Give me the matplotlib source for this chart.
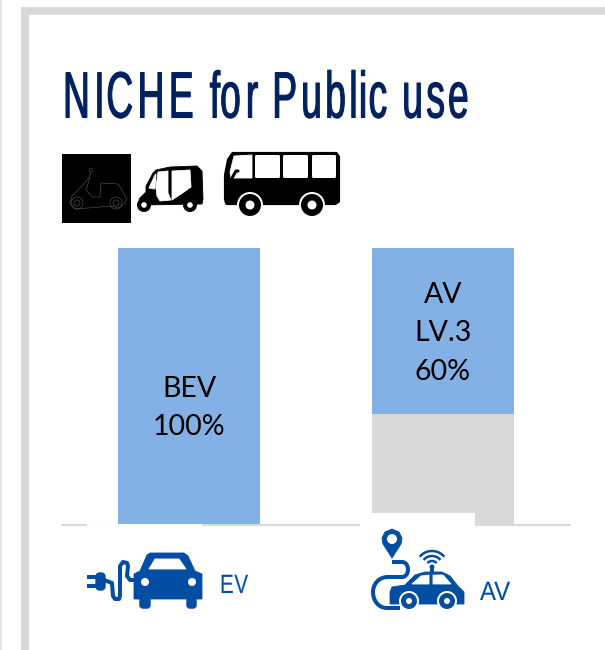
import numpy as np
import matplotlib
matplotlib.use("Agg")
import matplotlib.pyplot as plt
from matplotlib.patches import Rectangle, Polygon, Circle, PathPatch, FancyBboxPatch
from matplotlib.path import Path
from matplotlib.patheffects import AbstractPathEffect
from matplotlib.font_manager import FontProperties

# ---- data ----
categories = ["EV", "AV"]
share_top = [100, 60]
share_rest = [0, 40]
bar_labels = ["BEV\n100%", "AV\nLV.3\n60%"]
label_pos = [42.3, 69.2]
title = "NICHE for Public use"

BLUE, GRAY, NAVY, ICON = "#84B1E5", "#D9D9D9", "#002060", "#034EA2"
W, H, DPI = 605, 650, 100
NARROW = ["Liberation Sans Narrow", "Liberation Sans"]

fig = plt.figure(figsize=(W / DPI, H / DPI), dpi=DPI, facecolor="white")


class Condense(AbstractPathEffect):
    """Fit glyphs to a pixel width and height, to stand in for a condensed display face."""
    def __init__(self, width, glyph_scale, stroke, vscale):
        self.width, self.g, self.stroke, self.vs = width, glyph_scale, stroke, vscale

    def draw_path(self, renderer, gc, tpath, affine, rgbFace=None):
        V = tpath.vertices.copy()
        C = tpath.codes
        starts = list(np.flatnonzero(C == Path.MOVETO)) + [len(V)]
        contours = [(V[a:b, 0].min(), V[a:b, 0].max(), a, b) for a, b in zip(starts[:-1], starts[1:])]
        contours.sort()
        groups = []
        for c in contours:
            if groups and c[0] < groups[-1][1]:
                groups[-1][1] = max(groups[-1][1], c[1])
                groups[-1][2].append(c)
            else:
                groups.append([c[0], c[1], [c]])
        a_scale = affine.get_matrix()[0, 0]
        org = groups[0][0]
        last = groups[-1]
        S = self.width / (a_scale * ((last[0] - org) + self.g * (last[1] - last[0])))
        for left, _, members in groups:
            for _, _, a, b in members:
                V[a:b, 0] = org + S * (left - org) + S * self.g * (tpath.vertices[a:b, 0] - left)
        V[:, 1] *= self.vs
        g = renderer.new_gc()
        g.copy_properties(gc)
        g.set_linewidth(self.stroke)
        g.set_foreground(rgbFace)
        renderer.draw_path(g, Path(V, C), affine, rgbFace)
        g.restore()


def fitted(ax, x0, base, s, size, width, color, glyph_scale=1.0, stroke=0.0, vscale=1.0):
    fp = FontProperties(family=NARROW, size=size)
    t = ax.text(x0, base, s, fontproperties=fp, color=color, ha="left", va="baseline", zorder=10)
    t.set_path_effects([Condense(width, glyph_scale, stroke, vscale)])
    return t


# ---- chart ----
ax = fig.add_axes([62 / W, 1 - 525 / H, 508 / W, 277 / H], zorder=1)
ax.patch.set_alpha(0)
x = np.arange(len(categories))
ax.bar(x, share_rest, width=0.559, color=GRAY, zorder=2)
ax.bar(x, share_top, bottom=share_rest, width=0.559, color=BLUE, zorder=2)
ax.set_xlim(-0.5, 1.5)
ax.set_ylim(0, 100)
for s in ["top", "left", "right"]:
    ax.spines[s].set_visible(False)
ax.spines["bottom"].set_color(GRAY)
ax.spines["bottom"].set_linewidth(1.5)
ax.set_yticks([])
ax.set_xticks([])
for xi, lab, yp in zip(x, bar_labels, label_pos):
    ax.text(xi, yp, lab, ha="center", va="center", fontsize=20.5, family="Lato",
            color="black", linespacing=1.6, zorder=5)

# ---- pixel-space overlay: frame, masks, icons ----
ov = fig.add_axes([0, 0, 1, 1], zorder=2)
ov.set_xlim(0, W)
ov.set_ylim(H, 0)
ov.axis("off")
ov.patch.set_alpha(0)


def rect(x0, y0, x1, y1, c, z=1):
    ov.add_patch(Rectangle((x0, y0), x1 - x0, y1 - y0, fc=c, ec="none", zorder=z))


def poly(pts, c, z=3, lw=0.6):
    ov.add_patch(Polygon(pts, closed=True, fc=c, ec=c, lw=lw, joinstyle="round", zorder=z))


def circ(cx, cy, r, c, z=3):
    ov.add_patch(Circle((cx, cy), r, fc=c, ec="none", zorder=z))


def line(pts, c, lw, z=3, cap="round"):
    xs, ys = zip(*pts)
    ov.plot(xs, ys, color=c, lw=lw, solid_capstyle=cap, solid_joinstyle="round", zorder=z)


def curve(verts, codes, c, lw, z=3):
    ov.add_patch(PathPatch(Path(verts, codes), fc="none", ec=c, lw=lw, capstyle="butt", zorder=z))


# frame
rect(21, 7, W, 15, GRAY)
rect(21, 7, 29, H, GRAY)
rect(0, 0, 2, H, "#E4E4E4")

# white picture backgrounds that cover baseline / bar
rect(87, 524, 202, 620, "white", 2)
rect(360, 513, 475, 620, "white", 2)

# title and x labels
fitted(ov, 63, 117.5, title, 30, 404, NAVY, 0.86, 0.8, 47 / 30)
fitted(ov, 220, 593, categories[0], 19, 28, ICON, 0.95, 0.1)
fitted(ov, 480, 600, categories[1], 19, 30, ICON, 0.95, 0.1)

# scooter tile
rect(62, 154, 131, 223, "black")
sc = "#5A5A5A"
line([(92, 170), (89, 178), (80, 188), (72, 196), (70, 203), (76, 209), (112, 206), (118, 208),
      (124, 204), (127, 199), (122, 190), (118, 184), (101, 183), (100, 197), (92, 197),
      (86, 190), (90, 178)], sc, 0.4)
circ(91, 170, 2.2, sc)
circ(91, 170, 1.7, "black", 4)
for cx in (77, 116):
    ov.add_patch(Circle((cx, 203), 6, fc="none", ec=sc, lw=0.4, zorder=4))
    ov.add_patch(Circle((cx, 203), 3, fc="none", ec=sc, lw=0.4, zorder=4))

# auto rickshaw
poly([(156, 170), (170, 167), (197, 166), (202, 171), (203, 199), (202, 204), (142, 205),
      (139, 199), (146, 192), (146, 186), (153, 173)], "black")
poly([(149, 188), (155, 175), (156, 174), (155, 189)], "white", 4)
poly([(158, 172), (168, 171), (168, 193), (171, 200), (160, 201), (157, 196), (156, 187)], "white", 4)
poly([(172, 171), (190, 170), (191, 187), (184, 192), (172, 200)], "white", 4)
for cx in (144, 190):
    circ(cx, 205, 7, "black", 4)
    circ(cx, 205, 2.8, "white", 5)

# bus
poly([(233, 154), (336, 154), (338, 157), (338, 201), (335, 203), (227, 203), (226, 199),
      (226, 175), (229, 160)], "black", lw=3)
poly([(234, 156), (252, 155), (252, 178), (231, 178), (230, 172)], "white", 4)
for x0 in (255, 283, 312):
    ov.add_patch(FancyBboxPatch((x0, 155), 25 if x0 < 312 else 24, 23,
                                boxstyle="round,pad=0,rounding_size=1.5", fc="white", ec="none", zorder=4))
line([(232, 178), (236, 171), (238, 171)], "black", 2.2, 5)
for cx in (250, 312):
    circ(cx, 205, 13, "white", 4)
    circ(cx, 205, 11, "black", 5)
    circ(cx, 205, 4.5, "white", 6)

# EV icon
poly([(134, 574), (140, 571), (147, 555), (150, 553), (184, 553), (188, 556), (195, 571), (202, 574),
      (202, 599), (134, 599)], ICON)
poly([(149, 569), (155, 559), (179, 559), (186, 569)], "white", 4)
circ(145, 582, 4, "white", 4)
circ(192, 582, 4, "white", 4)
for x0, x1 in ((139, 151), (186, 197)):
    ov.add_patch(FancyBboxPatch((x0 + 2, 597), x1 - x0 - 4, 10, boxstyle="round,pad=0,rounding_size=2",
                                fc=ICON, ec=ICON, lw=2.5, zorder=3))
rect(87, 575, 96, 578.5, ICON, 3)
rect(87, 584, 96, 587.5, ICON, 3)
ov.add_patch(FancyBboxPatch((96, 573), 9, 17, boxstyle="round,pad=0,rounding_size=4",
                            fc=ICON, ec=ICON, lw=1, zorder=3))
line([(104, 580), (112, 583), (113, 596), (115, 599), (119, 599), (120, 596), (120, 566), (123, 562),
      (127, 563), (128, 566), (127, 576), (130, 580), (136, 580)], ICON, 2.9)

# AV icon
poly([(392, 558), (383, 544), (382, 538), (385, 532), (392, 529), (399, 532), (402, 538), (401, 544)], ICON)
circ(392, 539, 5, "white", 4)
M, L, C4 = Path.MOVETO, Path.LINETO, Path.CURVE4
curve([(392, 562), (402, 562), (410, 562), (410, 577), (402, 577), (388, 577),
       (378, 577), (373, 585), (373, 592), (373, 600), (378, 608), (387, 608), (400, 608)],
      [M, L, C4, C4, C4, L, C4, C4, C4, C4, C4, C4, L], ICON, 2.9)
poly([(390, 592), (392, 587), (405, 585), (415, 575), (425, 572), (442, 572), (450, 576), (458, 586),
      (464, 592), (464, 604), (390, 604)], ICON)
poly([(412, 584), (421, 576), (429, 575), (429, 584)], "white", 4)
poly([(433, 575), (443, 575), (451, 584), (433, 584)], "white", 4)
for cx in (409, 447):
    circ(cx, 601, 10, "white", 4)
    circ(cx, 601, 8, ICON, 5)
    circ(cx, 601, 3, "white", 6)
rect(430, 566, 434, 574, ICON, 3)
circ(432, 567, 2.5, ICON)
th = np.radians(np.linspace(-140, -40, 30))
for r in (6, 11, 16):
    line(list(zip(432 + r * np.cos(th), 567 + r * np.sin(th))), ICON, 1.8, cap="butt")

fig.savefig("out.png", dpi=DPI, facecolor="white")
